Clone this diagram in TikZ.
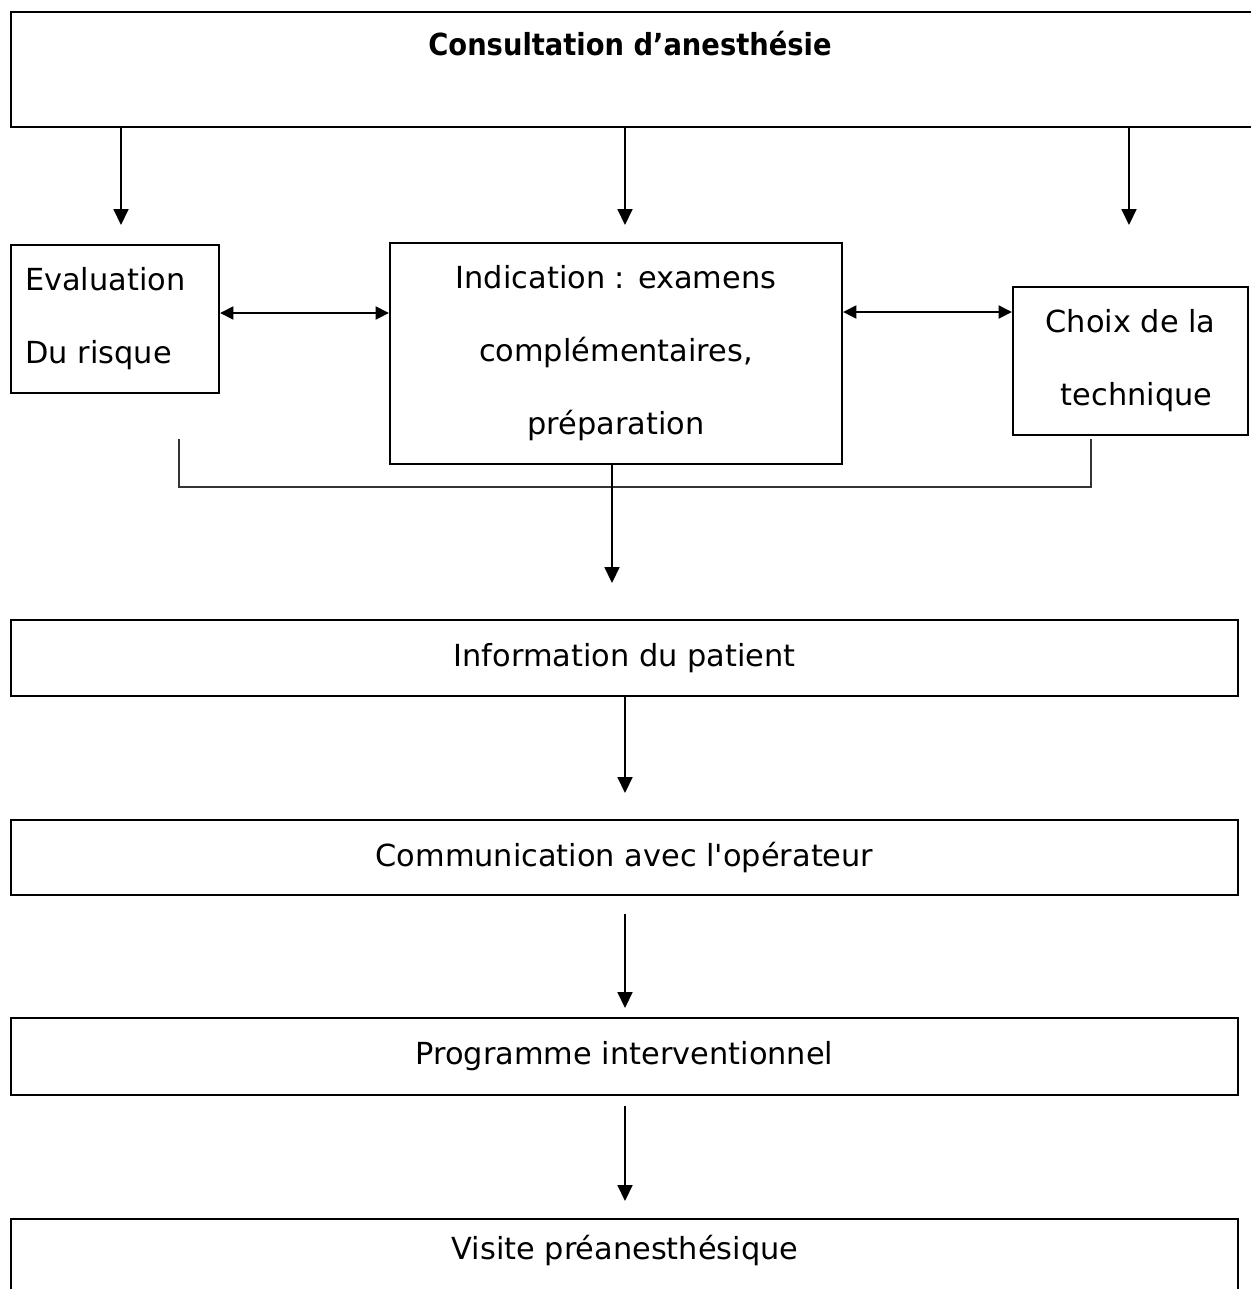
\documentclass[tikz,border=0pt]{standalone}
\usepackage{fontspec}
\usetikzlibrary{arrows.meta,positioning}
\setmainfont{DejaVu Sans}[Ligatures=TeXOff]
\IfFontExistsTF{DejaVu Sans Condensed Bold}
  {\newfontfamily\titlefont{DejaVu Sans Condensed Bold}}
  {\newfontfamily\titlefont{DejaVu Sans}[FakeBold=1.5]}

\begin{document}
\begin{tikzpicture}[x=0.02cm,y=-0.02cm,
    font=\fontsize{17.3pt}{41.5pt}\selectfont,
    box/.style={draw,line width=1.4pt,inner sep=0pt},
    arr/.style={line width=0.85pt,-{Triangle[length=9pt,width=8.5pt]}},
    dblarr/.style={line width=0.85pt,{Triangle[length=7.5pt,width=7.5pt]}-{Triangle[length=7.5pt,width=7.5pt]}},
    joint/.style={line width=0.9pt,draw=black!80}]

  \useasboundingbox (0,0) rectangle (1251,1289);

  %Top box
  \node[box,minimum width=25.08cm,minimum height=2.3cm] (cons) at (638,69.5) {};
  \node[font={\titlefont\fontsize{17.3pt}{20pt}\selectfont}] (constitle) at (630,44) {Consultation d’anesthésie};

  %Middle row
  \node[box,minimum width=4.16cm,minimum height=2.96cm,text width=3.6cm,inner xsep=0.28cm,align=left] (eval) at (115,319) {Evaluation\\Du risque};
  \node[box,minimum width=9.04cm,minimum height=4.42cm,align=center] (indic) at (616,353.5) {Indication : examens\\complémentaires,\\préparation};
  \node[box,minimum width=4.7cm,minimum height=2.96cm,align=center] (choix) at (1130.5,361) {Choix de la\\\hspace{0.4em}technique};

  %Lower boxes
  \node[box,minimum width=24.54cm,minimum height=1.52cm] (info) at (624.5,658) {Information du patient};
  \node[box,minimum width=24.54cm,minimum height=1.5cm] (comm) at (624.5,857.5) {Communication avec l'opérateur};
  \node[box,minimum width=24.54cm,minimum height=1.54cm] (prog) at (624.5,1056.5) {Programme interventionnel};
  \node[box,minimum width=24.54cm,minimum height=2.02cm] (visite) at (624.5,1269.5) {};
  \node (visitetext) at (625,1250) {Visite préanesthésique};

  %Arrow tips
  \coordinate (tA) at (121,225);
  \coordinate (tB) at (625,225);
  \coordinate (tC) at (1129,225);
  \coordinate (tD) at (612,583);
  \coordinate (tE) at (625,793);
  \coordinate (tF) at (625,1008);
  \coordinate (tG) at (625,1201);
  \coordinate (rowL) at (0,313);
  \coordinate (rowR) at (0,312);
  \coordinate (brL) at (179,439);
  \coordinate (brR) at (1091,439);

  %Arrows from the consultation
  \draw[arr] (cons.south -| tA) -- (tA);
  \draw[arr] (cons.south -| tB) -- (tB);
  \draw[arr] (cons.south -| tC) -- (tC);

  %Links between the middle boxes
  \draw[dblarr] (eval.east |- rowL) -- (indic.west |- rowL);
  \draw[dblarr] (indic.east |- rowR) -- (choix.west |- rowR);

  %Joining line
  \draw[joint] (brL) -- ++(0,48) -| (brR);
  \draw[arr] (indic.south -| tD) -- (tD);

  %Chain
  \draw[arr] (info.south -| tE) -- (tE);
  \draw[arr,shorten <=10pt] (comm.south -| tF) -- (tF);
  \draw[arr,shorten <=5.5pt] (prog.south -| tG) -- (tG);
\end{tikzpicture}
\end{document}
